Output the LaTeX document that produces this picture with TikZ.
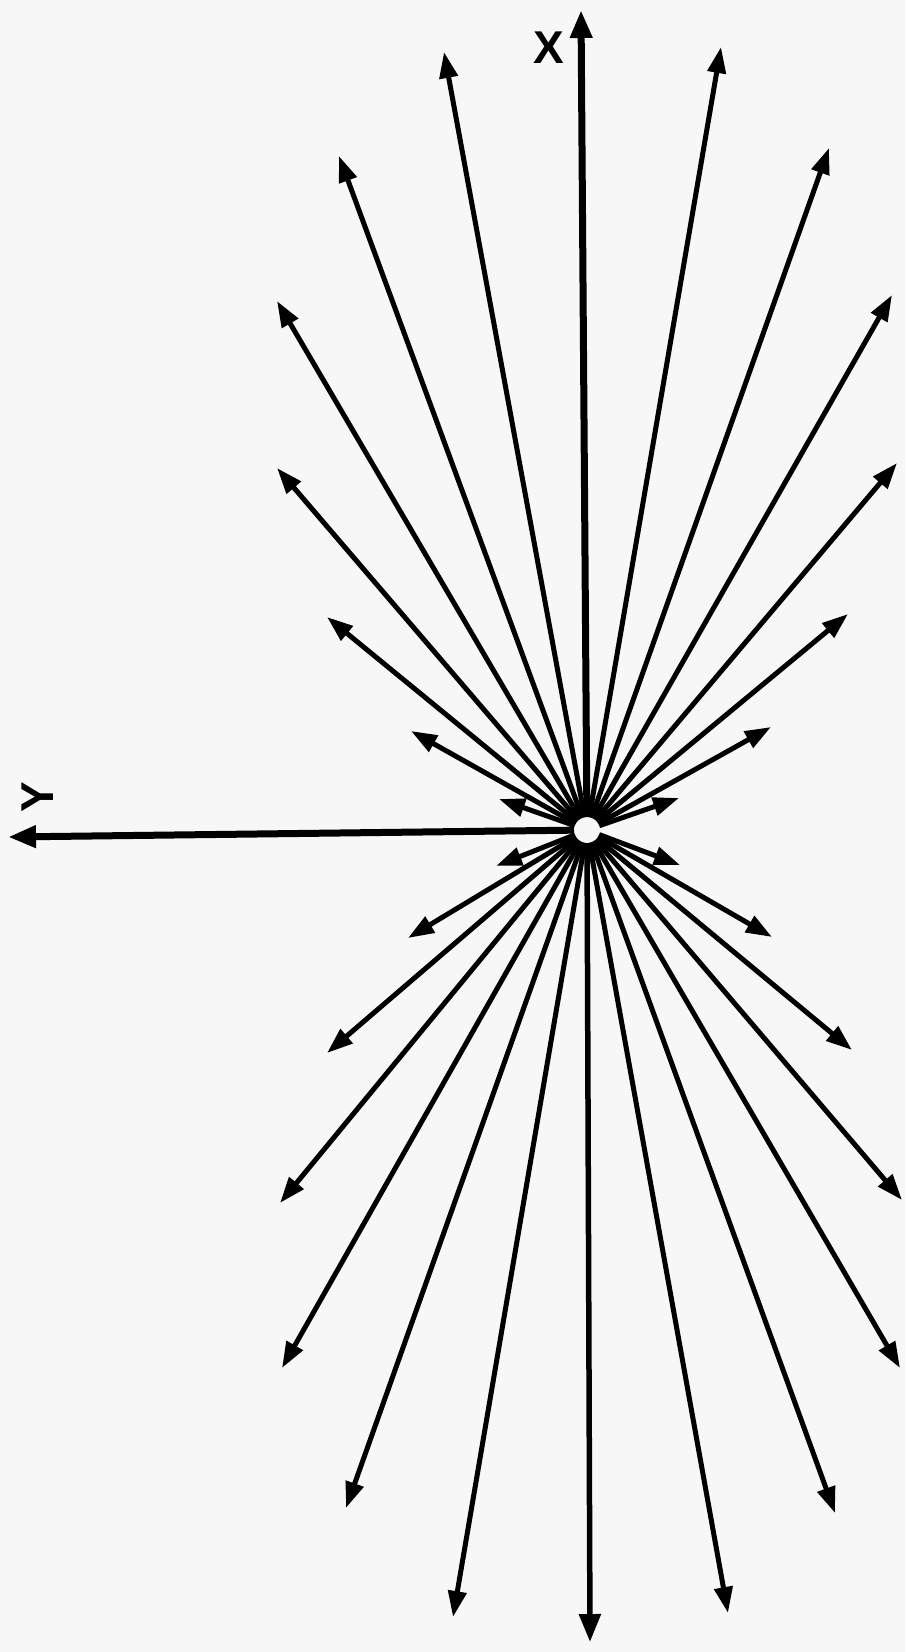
\documentclass[tikz,border=0pt]{standalone}
\usepackage{fontspec}
\setmainfont{Liberation Sans}
\usetikzlibrary{arrows.meta}
\begin{document}
\begin{tikzpicture}[x=1pt,y=-1pt,
  ray/.style={line width=5pt, -{Triangle[length=26pt,width=18pt]}, shorten <=13pt},
  axis/.style={line width=7pt, -{Triangle[length=28pt,width=21pt]}, shorten <=13pt},
  lbl/.style={font=\fontsize{46}{46}\selectfont\bfseries, inner sep=0pt}]
\fill[black!3] (0,0) rectangle (905,1652);
\useasboundingbox (0,0) rectangle (905,1652);
\coordinate (C) at (587,830);
% tips
\coordinate (tx) at (581,10);
\coordinate (ty) at (8,837);
\coordinate (tb) at (590,1642);
\foreach \n/\x/\y in {
  a2/444/52, a3/721/47, a4/339/156, a5/829/148, a6/277/301, a7/892/295,
  a8/277/468, a9/897/463, a10/327/617, a11/848/614, a12/411/731, a13/771/727,
  a14/499/799, a15/679/798, a17/496/866, a18/680/865, a19/408/938, a20/772/937,
  a21/327/1053, a22/852/1050, a23/280/1203, a24/902/1200, a25/282/1368, a26/900/1368,
  a27/346/1508, a28/835/1513, a29/453/1617, a30/728/1613}
  {\coordinate (\n) at (\x,\y);}
\foreach \n in {a2,a3,a4,a5,a6,a7,a8,a9,a10,a11,a12,a13,a14,a15,a17,a18,a19,a20,
  a21,a22,a23,a24,a25,a26,a27,a28,a29,a30}
  {\draw[ray] (C) -- (\n);}
\draw[axis] (C) -- (tx);
\draw[axis] (C) -- (ty);
\draw[axis, line width=5.5pt] (C) -- (tb);
\node[lbl] (xl) at (549,48) {X};
\node[lbl, rotate=90] (yl) at (38,797) {Y};
\end{tikzpicture}
\end{document}
